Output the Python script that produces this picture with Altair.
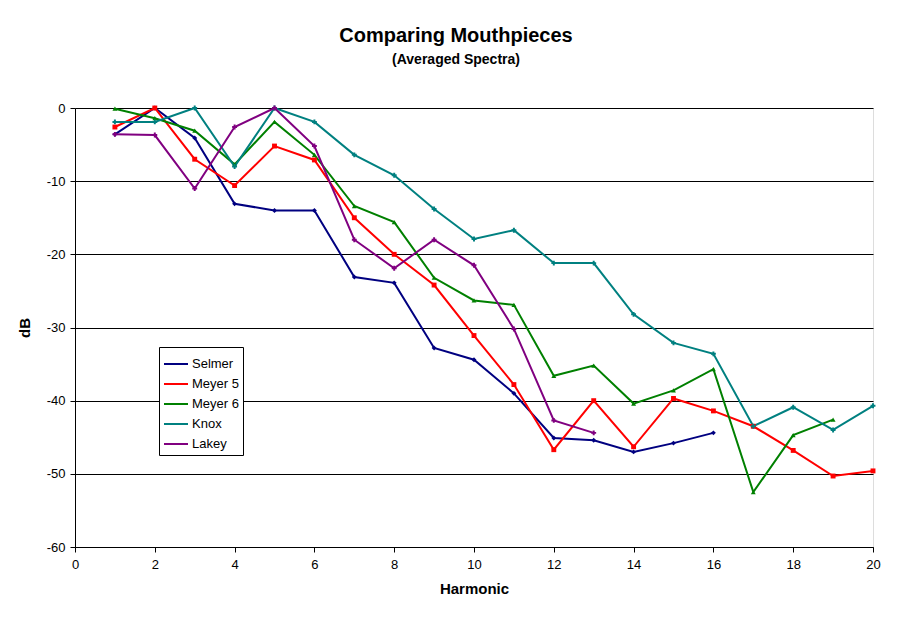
import altair as alt
import pandas as pd

harmonics = list(range(1, 21))
series_names = ["Selmer", "Meyer 5", "Meyer 6", "Knox", "Lakey"]
colors = ["#000080", "#FF0000", "#008000", "#008080", "#800080"]
shapes = ["diamond", "square", "triangle-up", "cross", "cross"]

selmer = [-3.6, 0.0, -4.1, -13.1, -14.0, -14.0, -23.1, -23.9, -32.8, -34.4,
          -39.0, -45.1, -45.4, -47.0, -45.8, -44.4]
meyer5 = [-2.6, 0.0, -7.0, -10.6, -5.2, -7.1, -15.0, -20.0, -24.2, -31.1,
          -37.8, -46.7, -40.0, -46.3, -39.7, -41.4, -43.5, -46.8, -50.3, -49.6]
meyer6 = [-0.1, -1.4, -3.1, -7.7, -1.9, -6.4, -13.4, -15.6, -23.2, -26.3,
          -26.9, -36.6, -35.2, -40.4, -38.6, -35.7, -52.5, -44.7, -42.6]
knox = [-1.9, -1.9, 0.0, -8.0, 0.0, -1.9, -6.4, -9.2, -13.8, -17.9,
        -16.7, -21.2, -21.2, -28.2, -32.1, -33.6, -43.5, -40.9, -44.0, -40.7]
lakey = [-3.6, -3.7, -11.0, -2.6, 0.0, -5.2, -18.0, -21.9, -18.0, -21.5,
         -30.2, -42.7, -44.4]

all_series = [selmer, meyer5, meyer6, knox, lakey]
rows = []
for name, vals in zip(series_names, all_series):
    for h, v in zip(harmonics, vals):
        rows.append({"Harmonic": h, "dB": v, "Series": name, "Marker": name})
df = pd.DataFrame(rows)

x = alt.X("Harmonic:Q", scale=alt.Scale(domain=[0, 20], nice=False),
          axis=alt.Axis(values=list(range(0, 21, 2)), grid=False, title="Harmonic",
                        tickColor="black", domainColor="black", tickSize=5,
                        labelExpr="'' + datum.value", labelFlush=False,
                        labelFont="Liberation Sans", labelFontSize=13, labelColor="black",
                        labelPadding=6, titleFont="Liberation Sans", titleFontSize=15,
                        titleFontWeight="bold", titleColor="black", titlePadding=10))
y = alt.Y("dB:Q", scale=alt.Scale(domain=[-60, 0], nice=False),
          axis=alt.Axis(values=list(range(-60, 1, 10)), grid=True, gridColor="black",
                        gridOpacity=1, gridWidth=1, title="dB",
                        labelExpr="'' + datum.value", labelFlush=False,
                        tickColor="black", domainColor="black", tickSize=5,
                        labelFont="Liberation Sans", labelFontSize=13, labelColor="black",
                        labelPadding=5, titleFont="Liberation Sans", titleFontSize=15,
                        titleFontWeight="bold", titleColor="black", titlePadding=14))

color = alt.Color("Series:N", scale=alt.Scale(domain=series_names, range=colors),
                  sort=series_names,
                  legend=alt.Legend(title=None, orient="none", legendX=84, legendY=239,
                                    symbolType="stroke", symbolStrokeWidth=2,
                                    symbolSize=576, labelFont="Liberation Sans",
                                    labelFontSize=13, labelColor="black",
                                    strokeColor="black", fillColor="white",
                                    padding=4, rowPadding=0, labelOffset=3,
                                    cornerRadius=0))

lines = alt.Chart(df).mark_line(strokeWidth=2).encode(
    x=x, y=y, color=color, detail="Series:N")
points = alt.Chart(df).mark_point(filled=True, size=24, opacity=1).encode(
    x="Harmonic:Q", y="dB:Q",
    color=alt.Color("Marker:N", scale=alt.Scale(domain=series_names, range=colors), legend=None),
    shape=alt.Shape("Marker:N", scale=alt.Scale(domain=series_names, range=shapes), legend=None))

chart = alt.layer(lines, points).resolve_scale(color="independent").properties(
    width=798, height=439,
    title=alt.TitleParams(text="Comparing Mouthpieces", subtitle="(Averaged Spectra)",
                          font="Liberation Sans", fontSize=20, fontWeight="bold",
                          subtitleFont="Liberation Sans", subtitleFontSize=14,
                          subtitleFontWeight="bold", color="black", subtitleColor="black",
                          anchor="middle", dx=-18, offset=35, subtitlePadding=7),
    autosize=alt.AutoSizeParams(type="none"),
    padding={"left": 67, "top": 100, "right": 30, "bottom": 60},
).configure_view(stroke=None).configure(background="white")

chart.save("out.html", embed_options={"renderer": "svg", "actions": False})
